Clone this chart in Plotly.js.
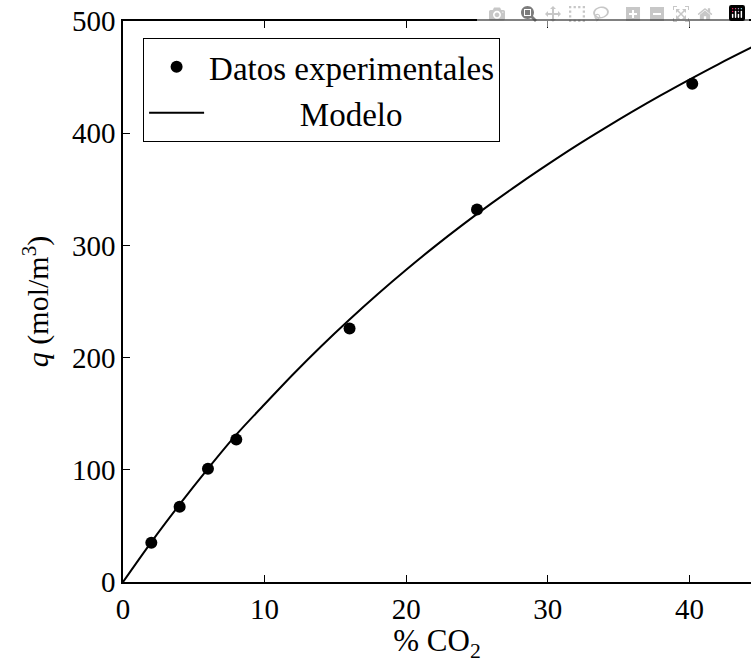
<!DOCTYPE html>
<html>
<head>
<meta charset="utf-8">
<script src="https://cdn.plot.ly/plotly-3.0.1.min.js"></script>
</head>
<body style="margin:0">
<div id="chart" style="width:751px;height:663px"></div>
<script>
// Experimental data
const expX = [2, 4, 6, 8, 16, 25, 40.2];
const expY = [35, 67, 101, 127, 226, 332, 444];
// Model curve
const modelX = [0, 2, 4, 6, 8, 10, 12, 14, 16, 18, 20, 22, 24, 26, 28, 30, 32, 34, 36, 38, 40, 42, 44.4];
const modelY = [0, 35.6, 69.1, 101.0, 131.3, 158.4, 185.0, 210.2, 234.0, 256.7, 278.3, 298.9, 318.5, 337.2, 355.1, 372.2, 388.7, 404.3, 419.4, 433.9, 447.8, 461.2, 476.5];
const xTicks = [0, 10, 20, 30, 40];
const yTicks = [0, 100, 200, 300, 400, 500];

Plotly.newPlot('chart', [
  {x: expX, y: expY, mode: 'markers', name: 'Datos experimentales',
   marker: {color: '#000', size: 12}},
  {x: modelX, y: modelY, mode: 'lines', name: '\u00a0\u00a0\u00a0\u00a0\u00a0\u00a0\u00a0\u00a0\u00a0\u00a0\u00a0Modelo',
   line: {color: '#000', width: 2, shape: 'spline'}}
], {
  width: 751, height: 663,
  margin: {l: 123, r: 0, t: 21, b: 81, pad: 0},
  font: {family: 'Liberation Serif', size: 29, color: '#000'},
  showlegend: true,
  legend: {x: 0.032, y: 0.97, xanchor: 'left', yanchor: 'top',
    bordercolor: '#000', borderwidth: 1, bgcolor: '#fff',
    font: {size: 33}, tracegroupgap: 0, itemwidth: 55},
  xaxis: {range: [0, 44.35], tickvals: xTicks, ticktext: xTicks.map(String),
    ticks: 'inside', ticklen: 7, tickcolor: '#000', showline: true, linecolor: '#000', linewidth: 1.5,
    mirror: 'ticks', showgrid: false, zeroline: false,
    title: {text: '% CO<sub>2</sub>', font: {size: 31}, standoff: 10}},
  yaxis: {range: [0, 500], tickvals: yTicks, ticktext: yTicks.map(String),
    ticks: 'inside', ticklen: 7, tickcolor: '#000', showline: true, linecolor: '#000', linewidth: 1.5,
    mirror: false, showgrid: false, zeroline: false,
    title: {text: '<i>q</i> (mol/m<sup>3</sup>)', font: {size: 30}, standoff: 14}}
});
</script>
</body>
</html>
